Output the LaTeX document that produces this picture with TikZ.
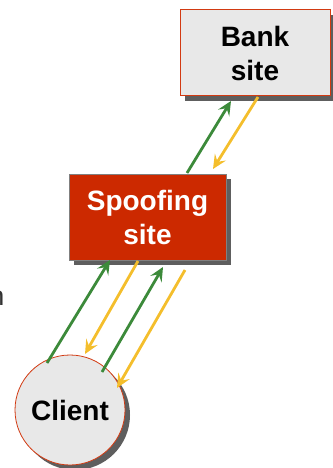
\documentclass[tikz,border=0pt]{standalone}
\usepackage{fontspec}
\setmainfont{Liberation Sans}
\usetikzlibrary{arrows.meta,shadows}

\definecolor{bankfill}{HTML}{E8E8E8}
\definecolor{edgered}{HTML}{D23A12}
\definecolor{spoofred}{HTML}{CC2900}
\definecolor{shadowgray}{HTML}{5E5E5E}
\definecolor{reqgreen}{HTML}{3C8A3A}
\definecolor{respyellow}{HTML}{F4BE2C}

\tikzset{
  site/.style={rectangle, inner sep=0pt, font=\fontsize{28}{34}\selectfont\bfseries,
    align=center, drop shadow={shadow xshift=5pt, shadow yshift=-5pt,
    fill=shadowgray, opacity=1}},
  request/.style={draw=reqgreen, line width=2.8pt,
    -{Stealth[length=14pt, width=13pt, inset=5.5pt]}},
  reply/.style={draw=respyellow, line width=2.8pt,
    -{Stealth[length=14pt, width=13pt, inset=5.5pt]}},
}

\begin{document}
\begin{tikzpicture}[x=1pt, y=-1pt]
  \useasboundingbox (0,0) rectangle (332,468);

  % servers and client
  \node[site, fill=bankfill, draw=edgered, line width=1pt,
        minimum width=150pt, minimum height=86pt] (bank) at (255,53) {Bank\\site};
  \node[site, fill=spoofred, draw=gray, line width=0.8pt, text=white,
        minimum width=157pt, minimum height=86pt] (spoof) at (147.5,217) {Spoofing\\site};
  \node[circle, fill=bankfill, draw=edgered, line width=0.8pt, minimum size=110pt,
        inner sep=0pt, font=\fontsize{28}{34}\selectfont\bfseries,
        drop shadow={shadow xshift=5pt, shadow yshift=-5pt, fill=shadowgray, opacity=1}]
        (client) at (70,410) {Client};

  % cut-off caption letter at the left margin
  \node[anchor=base east, inner sep=0pt, text=black!80,
        font=\fontsize{27}{34}\selectfont] (cap) at (4.5,305) {n};

  % arrow end points
  \coordinate (s1) at (187,173);  \coordinate (e1) at (231,101);
  \coordinate (s2) at (258,97);   \coordinate (e2) at (213,169);
  \coordinate (s3) at (47,363);   \coordinate (e3) at (110,260);
  \coordinate (s4) at (138,261);  \coordinate (e4) at (85,354);
  \coordinate (s5) at (102,372);  \coordinate (e5) at (163,267);
  \coordinate (s6) at (185,270);  \coordinate (e6) at (117,388);

  % spoofing site <-> bank
  \draw[request] (s1) -- (e1);
  \draw[reply]   (s2) -- (e2);
  % client <-> spoofing site
  \draw[request] (s3) -- (e3);
  \draw[reply]   (s4) -- (e4);
  \draw[request] (s5) -- (e5);
  \draw[reply]   (s6) -- (e6);
\end{tikzpicture}
\end{document}
